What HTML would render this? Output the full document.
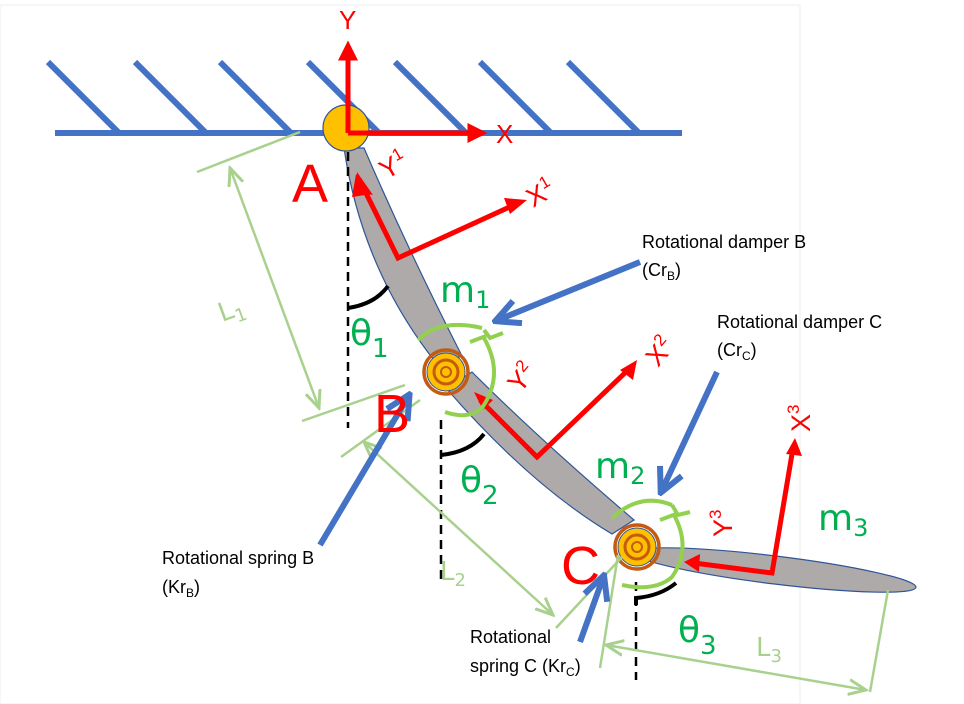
<!DOCTYPE html>
<html><head><meta charset="utf-8"><style>
html,body{margin:0;padding:0;background:#fff;}
svg{display:block;font-family:"Liberation Sans",sans-serif;}
.t{font-family:"DejaVu Sans","Liberation Sans",sans-serif;}
</style></head><body>
<svg width="964" height="704" viewBox="0 0 964 704" xmlns="http://www.w3.org/2000/svg">
<defs>
<marker id="ar" markerWidth="4" markerHeight="4" refX="2.5" refY="2" orient="auto" markerUnits="strokeWidth"><path d="M0,0 L4,2 L0,4 Z" fill="#FF0000"/></marker>
<marker id="ab" markerWidth="5" markerHeight="5" refX="4" refY="2.5" orient="auto" markerUnits="strokeWidth"><path d="M0.5,0.5 L4.5,2.5 L0.5,4.5" fill="none" stroke="#4472C4" stroke-width="1"/></marker>
<marker id="ag" markerWidth="8" markerHeight="8" refX="7" refY="4" orient="auto-start-reverse" markerUnits="strokeWidth"><path d="M0,1 L7,4 L0,7" fill="none" stroke="#A9D18E" stroke-width="1.2"/></marker>
</defs>
<rect x="0" y="5" width="800" height="699" fill="none" stroke="#eeeeee" stroke-width="1"/>
<!-- ground -->
<g stroke="#4472C4" stroke-width="6">
<line x1="55" y1="133" x2="682" y2="133"/>
<line x1="48" y1="62" x2="118" y2="132"/>
<line x1="135" y1="62" x2="205" y2="132"/>
<line x1="220" y1="62" x2="290" y2="132"/>
<line x1="308" y1="62" x2="378" y2="132"/>
<line x1="395" y1="62" x2="465" y2="132"/>
<line x1="480" y1="62" x2="550" y2="132"/>
<line x1="568" y1="62" x2="638" y2="132"/>
</g>
<!-- links -->
<path d="M344,148 Q362,270 437,364 L462,356 Q408,250 364,148 Z" fill="#AEAAAA" stroke="#2F5597" stroke-width="1.2"/>
<path d="M446,388 Q530,485 612,534 L634,520 Q540,440 472,372 Z" fill="#AEAAAA" stroke="#2F5597" stroke-width="1.2"/>
<ellipse cx="775" cy="570" rx="142" ry="14" transform="rotate(7 775 570)" fill="#AEAAAA" stroke="#2F5597" stroke-width="1.2"/>
<!-- pivot A -->
<circle cx="346" cy="128" r="23" fill="#FFC000" stroke="#2F5597" stroke-width="1.2"/>
<!-- dashed verticals -->
<g stroke="#000" stroke-width="2.5" stroke-dasharray="9,6">
<line x1="348" y1="152" x2="348" y2="428"/>
<line x1="441" y1="420" x2="441" y2="585"/>
<line x1="636" y1="582" x2="636" y2="680"/>
</g>
<g fill="none" stroke="#000" stroke-width="4">
<path d="M348,308 Q375,304 388,286"/>
<path d="M441,455 Q470,452 484,434"/>
<path d="M636,605 L636,598 Q660,596 676,583"/>
</g>
<!-- red axes -->
<g stroke="#FF0000" stroke-width="5" fill="none">
<line x1="348" y1="133" x2="348" y2="48" marker-end="url(#ar)"/>
<line x1="348" y1="133" x2="480" y2="133" marker-end="url(#ar)"/>
<polyline points="362,185 398,258 514,205"/>
<polyline points="480,400 537,457 628,370"/>
<polyline points="694,563 772,573 793,448"/>
</g>
<g fill="#FF0000">
<path d="M357,172 L373,195 L356,192 Z"/><path d="M356,174 L372,194 L352,197 Z"/>
<path d="M527,200 L510,214 L504,198 Z"/>
<path d="M474,392 L493,400 L483,410 Z"/>
<path d="M637,360 L633,380 L620,370 Z"/>
<path d="M684,562 L700,554 L699,572 Z"/>
<path d="M795,438 L802,456 L786,454 Z"/>
</g>
<!-- springs and dampers -->
<g fill="none" stroke="#92D050" stroke-width="4">
<path d="M418,340 Q440,318 482,328"/>
<path d="M484,330 L490,338 L503,333 M484,338 Q505,375 482,408 Q468,420 445,412"/>
<path d="M470,342 L486,336"/>
<path d="M612,518 Q640,492 672,505"/>
<path d="M672,505 L678,515 L690,512 M674,515 Q692,548 672,577 Q655,592 622,585"/>
<path d="M660,520 L676,514"/>
</g>
<circle cx="446" cy="372" r="19" fill="#FFC000" stroke="#2F5597" stroke-width="1"/>
<circle cx="446" cy="372" r="22" fill="none" stroke="#C55A11" stroke-width="3.5"/>
<circle cx="446" cy="372" r="12" fill="none" stroke="#C55A11" stroke-width="3"/>
<circle cx="446" cy="372" r="5" fill="none" stroke="#C55A11" stroke-width="2"/>
<circle cx="637" cy="547" r="19" fill="#FFC000" stroke="#2F5597" stroke-width="1"/>
<circle cx="637" cy="547" r="22" fill="none" stroke="#C55A11" stroke-width="3.5"/>
<circle cx="637" cy="547" r="12" fill="none" stroke="#C55A11" stroke-width="3"/>
<circle cx="637" cy="547" r="5" fill="none" stroke="#C55A11" stroke-width="2"/>
<!-- green dims -->
<g stroke="#A9D18E" stroke-width="2.5" fill="none">
<line x1="197" y1="172" x2="300" y2="132"/>
<line x1="302" y1="421" x2="405" y2="385"/>
<line x1="230" y1="168" x2="319" y2="408" marker-start="url(#ag)" marker-end="url(#ag)"/>
<line x1="341" y1="457" x2="420" y2="400"/>
<line x1="364" y1="442" x2="553" y2="615" marker-start="url(#ag)" marker-end="url(#ag)"/>
<line x1="600" y1="668" x2="618" y2="555"/>
<line x1="870" y1="692" x2="888" y2="590"/>
<line x1="606" y1="645" x2="866" y2="690" marker-start="url(#ag)" marker-end="url(#ag)"/>
<line x1="556" y1="628" x2="622" y2="557"/>
</g>
<!-- blue arrows -->
<g stroke="#4472C4" stroke-width="6" fill="none">
<line x1="640" y1="262" x2="498" y2="320" marker-end="url(#ab)"/>
<line x1="320" y1="545" x2="408" y2="397" marker-end="url(#ab)"/>
<line x1="717" y1="372" x2="662" y2="490" marker-end="url(#ab)"/>
<line x1="580" y1="642" x2="603" y2="578" marker-end="url(#ab)"/>
</g>
<!-- labels -->
<g fill="#FF0000" font-size="26">
<text x="339" y="29">Y</text>
<text x="496" y="143">X</text>
<text x="0" y="0" font-size="27" transform="translate(386,180) rotate(-30)">Y<tspan font-size="17" dy="-11">1</tspan></text>
<text x="0" y="0" font-size="27" transform="translate(533,208) rotate(-30)">X<tspan font-size="17" dy="-11">1</tspan></text>
<text x="0" y="0" font-size="27" transform="translate(520,394) rotate(-50)">Y<tspan font-size="17" dy="-11">2</tspan></text>
<text x="0" y="0" font-size="27" transform="translate(658,368) rotate(-50)">X<tspan font-size="17" dy="-11">2</tspan></text>
<text x="0" y="0" font-size="27" transform="translate(732,537) rotate(-90)">Y<tspan font-size="17" dy="-11">3</tspan></text>
<text x="0" y="0" font-size="27" transform="translate(810,432) rotate(-90)">X<tspan font-size="17" dy="-11">3</tspan></text>
<text x="292" y="202" font-size="54">A</text>
<text x="374" y="432" font-size="54">B</text>
<text x="561" y="584" font-size="54">C</text>
</g>
<g fill="#00B050" font-size="36" class="t">
<text x="440" y="302">m<tspan font-size="24" dy="6">1</tspan></text>
<text x="595" y="478">m<tspan font-size="24" dy="6">2</tspan></text>
<text x="818" y="530">m<tspan font-size="24" dy="6">3</tspan></text>
<text x="350" y="345">θ<tspan font-size="26" dy="12">1</tspan></text>
<text x="460" y="492">θ<tspan font-size="26" dy="12">2</tspan></text>
<text x="678" y="642">θ<tspan font-size="26" dy="12">3</tspan></text>
</g>
<g fill="#A9D18E" font-size="26" class="t">
<text x="0" y="0" transform="translate(222,322) rotate(-20)">L<tspan font-size="18" dy="6">1</tspan></text>
<text x="440" y="580">L<tspan font-size="18" dy="6">2</tspan></text>
<text x="756" y="656">L<tspan font-size="18" dy="6">3</tspan></text>
</g>
<g fill="#000" font-size="18">
<text x="642" y="248">Rotational damper B</text>
<text x="642" y="276">(Cr<tspan font-size="12" dy="4">B</tspan><tspan dy="-4">)</tspan></text>
<text x="717" y="328">Rotational damper C</text>
<text x="717" y="356">(Cr<tspan font-size="12" dy="4">C</tspan><tspan dy="-4">)</tspan></text>
<text x="162" y="564">Rotational spring B</text>
<text x="162" y="593">(Kr<tspan font-size="12" dy="4">B</tspan><tspan dy="-4">)</tspan></text>
<text x="470" y="643">Rotational</text>
<text x="470" y="672">spring C (Kr<tspan font-size="12" dy="4">C</tspan><tspan dy="-4">)</tspan></text>
</g>
</svg>
</body></html>
